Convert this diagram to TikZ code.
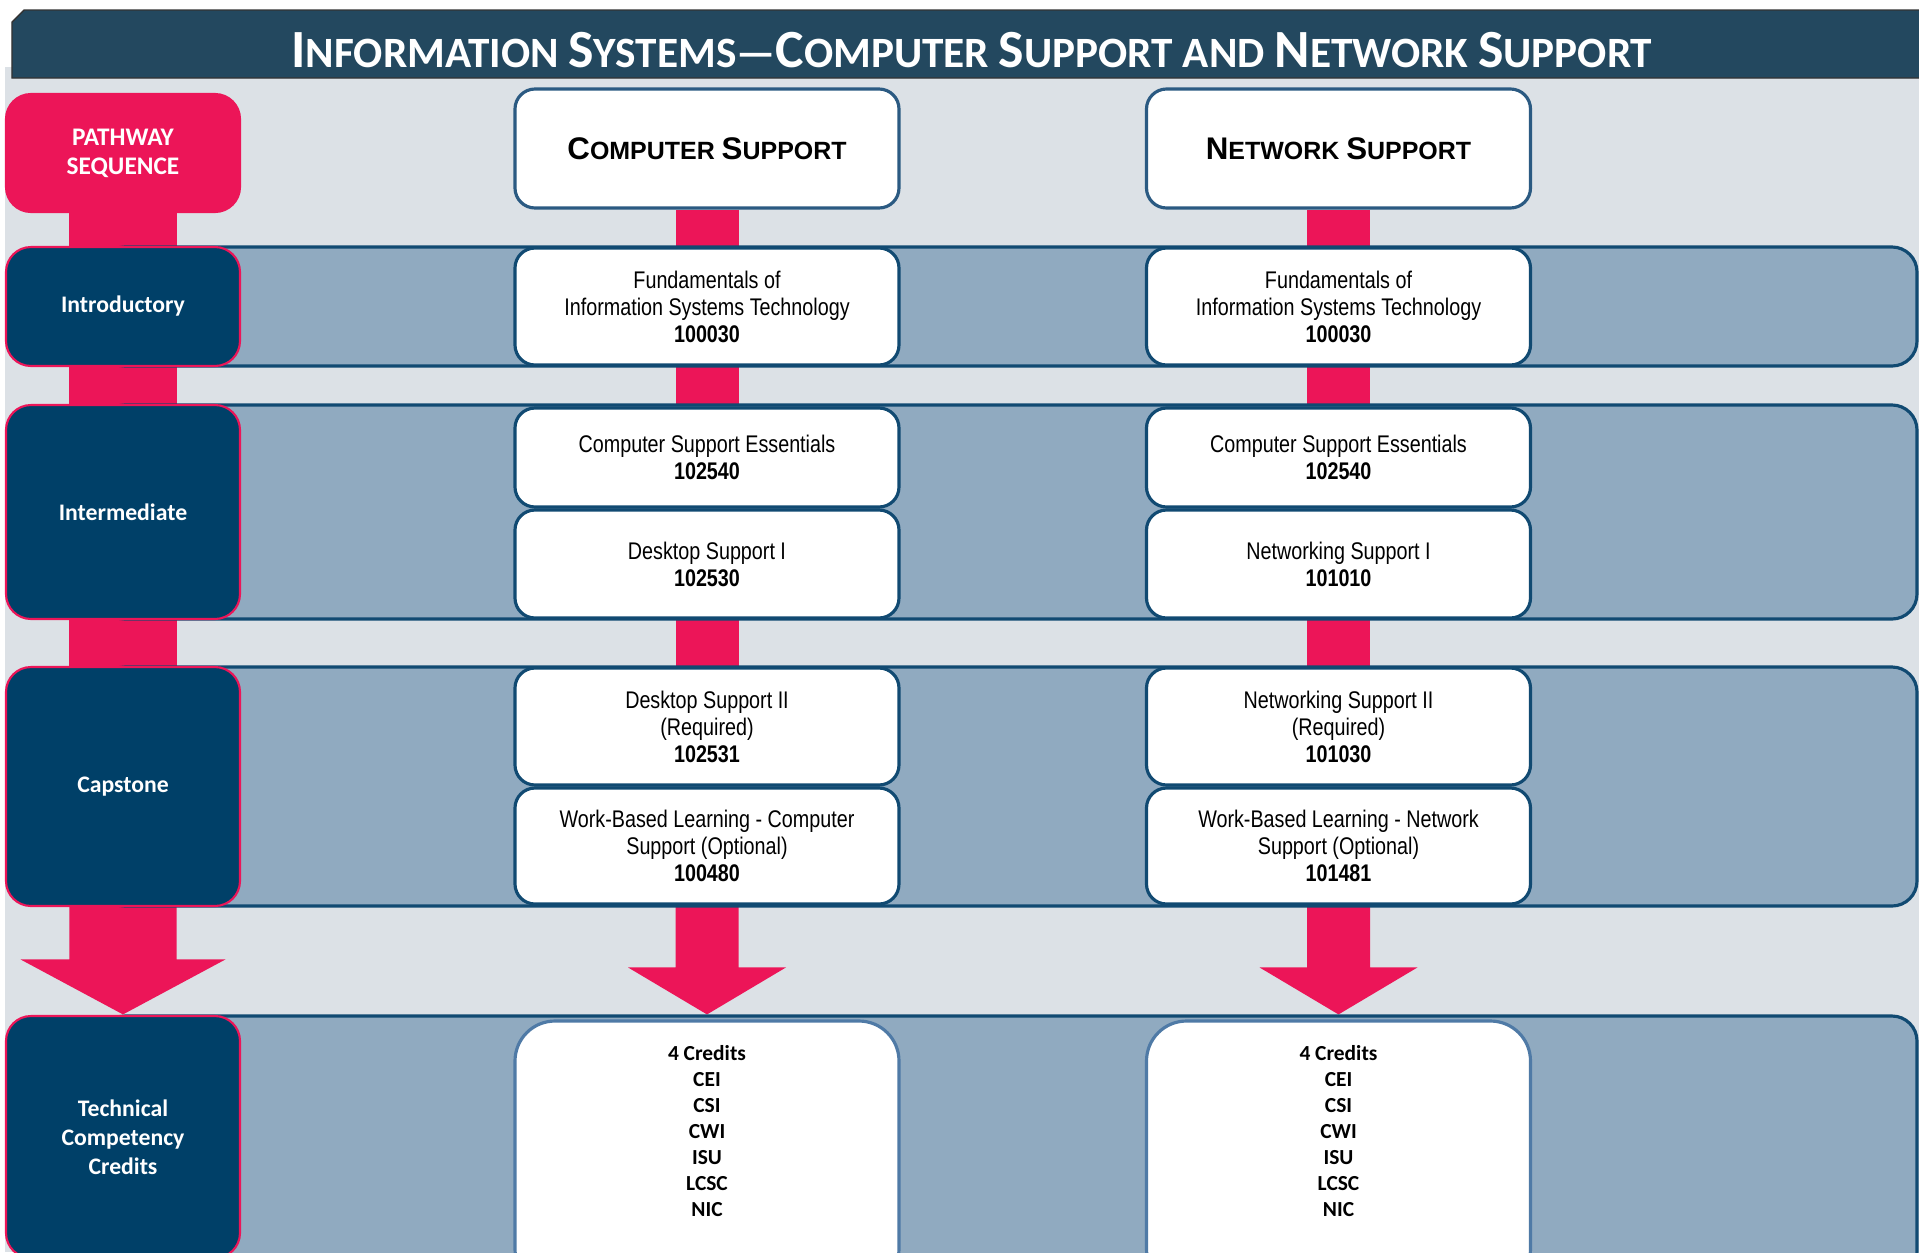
\documentclass[tikz,border=0pt]{standalone}
\usepackage{fontspec}
\usepackage{tikz}
\usetikzlibrary{backgrounds, positioning, calc}
\newfontfamily\calfont{Carlito}
\newfontfamily\narrowfont[FakeStretch=0.82]{Liberation Sans}
\newfontfamily\arialfont{Liberation Sans}
\definecolor{pathpink}{HTML}{EC1558}
\definecolor{navy}{HTML}{004068}
\definecolor{bandfill}{HTML}{90AAC0}
\definecolor{bandedge}{HTML}{114A72}
\definecolor{titleblue}{HTML}{23485F}
\definecolor{bggray}{HTML}{DCE1E6}
\definecolor{headedge}{HTML}{2B5A82}
\definecolor{crededge}{HTML}{4F7AA6}
\pgfdeclarelayer{bars}
\pgfdeclarelayer{bands}
\pgfsetlayers{background,bars,bands,main}
\newcommand\tcap[1]{{\fontsize{15.3}{15}\selectfont #1}}
\newcommand\hcap[1]{{\fontsize{8.9}{9}\selectfont #1}}
% from, tip, half shaft, half head, head length
\newcommand\pinkarrow[5]{%
  \fill[pathpink] ($(#1.south)+(-#3,0)$) -- ($(#2)+(-#3,-#5)$) -- ($(#2)+(-#4,-#5)$)
    -- (#2) -- ($(#2)+(#4,-#5)$) -- ($(#2)+(#3,-#5)$) -- ($(#1.south)+(#3,0)$) -- cycle;}

\begin{document}
\begin{tikzpicture}[x=1cm, y=-1cm,
  lvl/.style={draw=pathpink, line width=0.6pt, fill=navy, rounded corners=0.25cm,
    minimum width=2.34cm, inner sep=0pt, align=center, text=white,
    font=\calfont\bfseries\fontsize{6.75}{8.3}\selectfont},
  head/.style={draw=headedge, line width=0.9pt, fill=white, rounded corners=0.2cm,
    minimum width=3.84cm, minimum height=1.19cm, inner sep=0pt,
    font=\arialfont\bfseries\fontsize{7.1}{8}\selectfont},
  course/.style={draw=bandedge, line width=0.9pt, fill=white, rounded corners=0.2cm,
    minimum width=3.84cm, inner sep=0pt, align=center,
    font=\narrowfont\fontsize{6.85}{7.7}\selectfont},
  credbox/.style={draw=crededge, line width=0.9pt, fill=white, rounded corners=0.4cm,
    minimum width=3.84cm, minimum height=2.68cm, inner sep=0pt},
  credtext/.style={align=center, inner sep=0pt, anchor=north,
    font=\calfont\bfseries\fontsize{6.1}{7.4}\selectfont},
  band/.style={draw=bandedge, line width=0.9pt, fill=bandfill, rounded corners=0.25cm,
    minimum width=18.17cm, inner sep=0pt},
  barL/.style={pathpink, line width=1.07cm},
  barC/.style={pathpink, line width=0.63cm}]
\useasboundingbox (0,0) rectangle (19.19,12.52);
%
\begin{pgfonlayer}{background}
\fill[bggray] (0.05,0.67) rectangle (19.19,12.52);
\end{pgfonlayer}
\fill[titleblue, draw=black!80, line width=0.4pt] (0.12,0.22) -- (0.24,0.10) -- (19.3,0.10)
  -- (19.3,0.78) -- (0.12,0.78) -- cycle;
\node[anchor=base, text=white, inner sep=0pt, font=\calfont\bfseries\fontsize{12.3}{13}\selectfont]
  (title) at (9.72,0.67)
  {\tcap{I}NFORMATION \tcap{S}YSTEMS—\tcap{C}OMPUTER \tcap{S}UPPORT AND \tcap{N}ETWORK \tcap{S}UPPORT};
%
\begin{pgfonlayer}{bands}
\node[band, minimum height=1.19cm] (bandI) at (10.085,3.065) {};
\node[band, minimum height=2.14cm] (bandM) at (10.085,5.12) {};
\node[band, minimum height=2.39cm] (bandC) at (10.085,7.865) {};
\node[band, minimum height=2.74cm] (bandT) at (10.085,11.53) {};
\end{pgfonlayer}
%
\node[lvl, fill=pathpink, draw=pathpink, minimum height=1.18cm,
  font=\calfont\bfseries\fontsize{7.2}{8.2}\selectfont] (path) at (1.23,1.53) {PATHWAY\\SEQUENCE};
\node[lvl, minimum height=1.19cm] (introL) at (1.23,3.065) {Introductory};
\node[lvl, minimum height=2.14cm] (interL) at (1.23,5.12) {Intermediate};
\node[lvl, minimum height=2.39cm] (capL) at (1.23,7.865) {Capstone};
\node[lvl, minimum height=2.42cm] (techL) at (1.23,11.37) {Technical\\Competency\\Credits};
%
\node[head] (headC) at (7.07,1.485) {\hcap{C}OMPUTER \hcap{S}UPPORT};
\node[head] (headN) at (13.385,1.485) {\hcap{N}ETWORK \hcap{S}UPPORT};
%
\node[course, minimum height=1.17cm] (fundC) at (7.07,3.065)
  {Fundamentals of\\Information Systems Technology\\\textbf{100030}};
\node[course, minimum height=0.99cm] (cseC) at (7.07,4.575) {Computer Support Essentials\\\textbf{102540}};
\node[course, minimum height=1.08cm] (dsC) at (7.07,5.64) {Desktop Support I\\\textbf{102530}};
\node[course, minimum height=1.17cm] (ds2C) at (7.07,7.265) {Desktop Support II\\(Required)\\\textbf{102531}};
\node[course, minimum height=1.16cm] (wblC) at (7.07,8.46)
  {Work-Based Learning - Computer\\Support (Optional)\\\textbf{100480}};
\node[credbox] (credC) at (7.07,11.55) {};
\node[credtext, below=0.25cm of credC.north] {4 Credits\\CEI\\CSI\\CWI\\ISU\\LCSC\\NIC};
%
\node[course, minimum height=1.17cm] (fundN) at (13.385,3.065)
  {Fundamentals of\\Information Systems Technology\\\textbf{100030}};
\node[course, minimum height=0.99cm] (cseN) at (13.385,4.575) {Computer Support Essentials\\\textbf{102540}};
\node[course, minimum height=1.08cm] (nsN) at (13.385,5.64) {Networking Support I\\\textbf{101010}};
\node[course, minimum height=1.17cm] (ns2N) at (13.385,7.265) {Networking Support II\\(Required)\\\textbf{101030}};
\node[course, minimum height=1.16cm] (wblN) at (13.385,8.46)
  {Work-Based Learning - Network\\Support (Optional)\\\textbf{101481}};
\node[credbox] (credN) at (13.385,11.55) {};
\node[credtext, below=0.25cm of credN.north] {4 Credits\\CEI\\CSI\\CWI\\ISU\\LCSC\\NIC};
%
\coordinate (tipL) at (capL.south |- bandT.north);
\coordinate (tipC) at (wblC.south |- bandT.north);
\coordinate (tipN) at (wblN.south |- bandT.north);
\begin{pgfonlayer}{bars}
\draw[barL] (path.south) -- (introL.north) (introL.south) -- (interL.north)
  (interL.south) -- (capL.north);
\draw[barC] (headC.south) -- (fundC.north) (fundC.south) -- (cseC.north)
  (dsC.south) -- (ds2C.north);
\draw[barC] (headN.south) -- (fundN.north) (fundN.south) -- (cseN.north)
  (nsN.south) -- (ns2N.north);
\pinkarrow{capL}{tipL}{0.535}{1.025}{0.55}
\pinkarrow{wblC}{tipC}{0.315}{0.79}{0.47}
\pinkarrow{wblN}{tipN}{0.315}{0.79}{0.47}
\end{pgfonlayer}
%
\end{tikzpicture}
\end{document}
